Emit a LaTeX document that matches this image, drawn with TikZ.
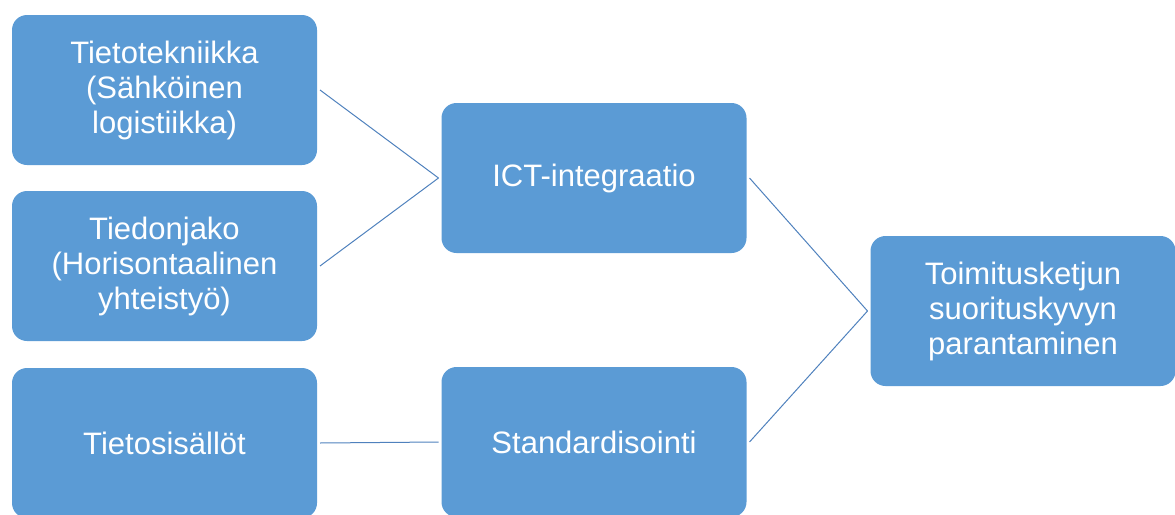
\documentclass[tikz,border=0pt]{standalone}
\usepackage{fontspec}
\setmainfont{Liberation Sans}
\definecolor{boxfill}{HTML}{5B9BD5}
\definecolor{linkline}{HTML}{4F81BD}
\begin{document}
\begin{tikzpicture}[x=1pt,y=-1pt,
  block/.style={fill=boxfill, draw=none, rounded corners=15pt,
    minimum width=305pt, minimum height=150pt, inner sep=0pt, outer sep=3pt,
    text=white, align=center, font=\fontsize{31}{35}\selectfont},
  link/.style={draw=linkline, line width=1pt}]
  \useasboundingbox (0,0) rectangle (1175,514);
  \begin{scope}
    \clip (0,0) rectangle (1175,514);
    \node[block] (tek) at (164.5,90) {Tietotekniikka\\(Sähköinen\\logistiikka)};
    \node[block] (jako) at (164.5,266) {Tiedonjako\\(Horisontaalinen\\yhteistyö)};
    \node[block] (sis) at (164.5,443) {Tietosisällöt};
    \node[block] (ict) at (594,178) {ICT-integraatio};
    \node[block] (std) at (594,442) {Standardisointi};
    \node[block] (toim) at (1023,311) {Toimitusketjun\\suorituskyvyn\\parantaminen};
  \end{scope}
  \draw[link] (tek.east) -- (ict.west);
  \draw[link] (jako.east) -- (ict.west);
  \draw[link] (sis.east) -- (std.west);
  \draw[link] (ict.east) -- (toim.west);
  \draw[link] (std.east) -- (toim.west);
\end{tikzpicture}
\end{document}
